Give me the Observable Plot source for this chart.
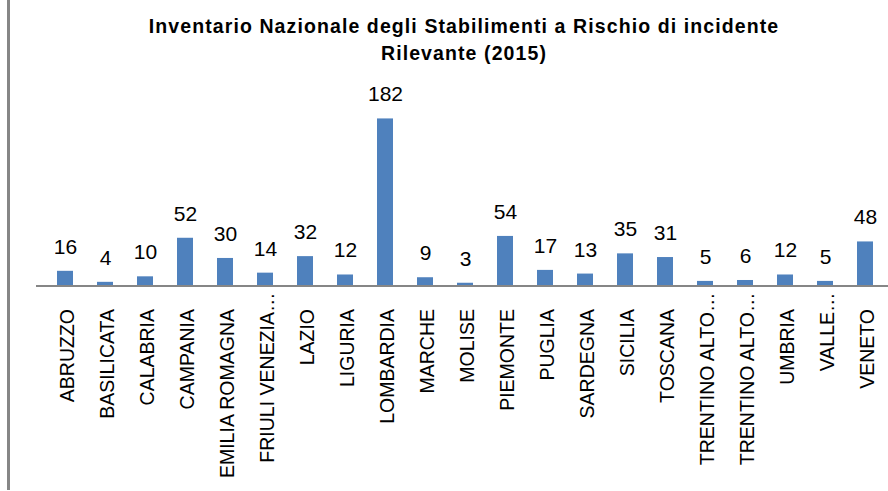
<!DOCTYPE html>
<html><head><meta charset="utf-8">
<script src="https://cdn.jsdelivr.net/npm/d3@7"></script>
<script src="https://cdn.jsdelivr.net/npm/@observablehq/plot@0.6"></script>
<style>
html,body{margin:0;padding:0;background:#fff;overflow:hidden}
#wrap{position:relative;width:888px;height:491px;overflow:hidden}
#border{position:absolute;left:7px;top:0;width:3px;height:490px;background:#868686}
#title{position:absolute;left:0;top:13px;width:928px;text-align:center;font:bold 19.5px 'Liberation Sans',Arial,sans-serif;letter-spacing:1.1px;line-height:27px;color:#000}
#chart{position:absolute;left:0;top:0}
</style></head><body>
<div id="wrap"><div id="chart"></div><div id="title">Inventario Nazionale degli Stabilimenti a Rischio di incidente<br>Rilevante (2015)</div><div id="border"></div></div>
<script>
const regions = ["ABRUZZO","BASILICATA","CALABRIA","CAMPANIA","EMILIA ROMAGNA","FRIULI VENEZIA GIULIA","LAZIO","LIGURIA","LOMBARDIA","MARCHE","MOLISE","PIEMONTE","PUGLIA","SARDEGNA","SICILIA","TOSCANA","TRENTINO ALTO ADIGE (BOLZANO)","TRENTINO ALTO ADIGE (TRENTO)","UMBRIA","VALLE D'AOSTA","VENETO"];
const tickLabels = ["ABRUZZO","BASILICATA","CALABRIA","CAMPANIA","EMILIA ROMAGNA","FRIULI VENEZIA…","LAZIO","LIGURIA","LOMBARDIA","MARCHE","MOLISE","PIEMONTE","PUGLIA","SARDEGNA","SICILIA","TOSCANA","TRENTINO ALTO…","TRENTINO ALTO…","UMBRIA","VALLE…","VENETO"];
const counts = [16,4,10,52,30,14,32,12,182,9,3,54,17,13,35,31,5,6,12,5,48];

const data = regions.map((r, i) => ({region: r, label: tickLabels[i], count: counts[i]}));
const labelOf = Object.fromEntries(data.map(d => [d.region, d.label]));
const truncated = data.filter(d => d.label.endsWith("…")).map(d => d.region);
const full = data.filter(d => !d.label.endsWith("…")).map(d => d.region);

const font = "'Liberation Sans', Arial, sans-serif";
const chart = Plot.plot({
  width: 888,
  height: 491,
  marginLeft: 36,
  marginRight: 0,
  marginTop: 0,
  marginBottom: 205.5,
  style: {fontFamily: font, background: "transparent", overflow: "visible"},
  x: {domain: regions, range: [36.6, 893.4], paddingInner: 0.608, paddingOuter: 0.304, axis: null},
  y: {domain: [0, 200], range: [285.5, 101.9], axis: null},
  marks: [
    Plot.barY(data, {x: "region", y: "count", fill: "#4F81BD"}),
    Plot.ruleY([0], {stroke: "#868686", strokeWidth: 2}),
    Plot.text(data, {x: "region", y: "count", text: d => String(d.count), dy: -17.5, lineAnchor: "bottom", fontSize: 21, fill: "#000"}),
    Plot.axisX(full, {tickSize: 0, tickPadding: 23, tickRotate: -90, tickFormat: d => labelOf[d], fontSize: 19.5, fill: "#000", dx: 2, label: null}),
    Plot.axisX(truncated, {tickSize: 0, tickPadding: 6.5, tickRotate: -90, tickFormat: d => labelOf[d], fontSize: 19.5, fill: "#000", dx: 2, label: null})
  ]
});
document.getElementById("chart").appendChild(chart);
</script>
</body></html>
